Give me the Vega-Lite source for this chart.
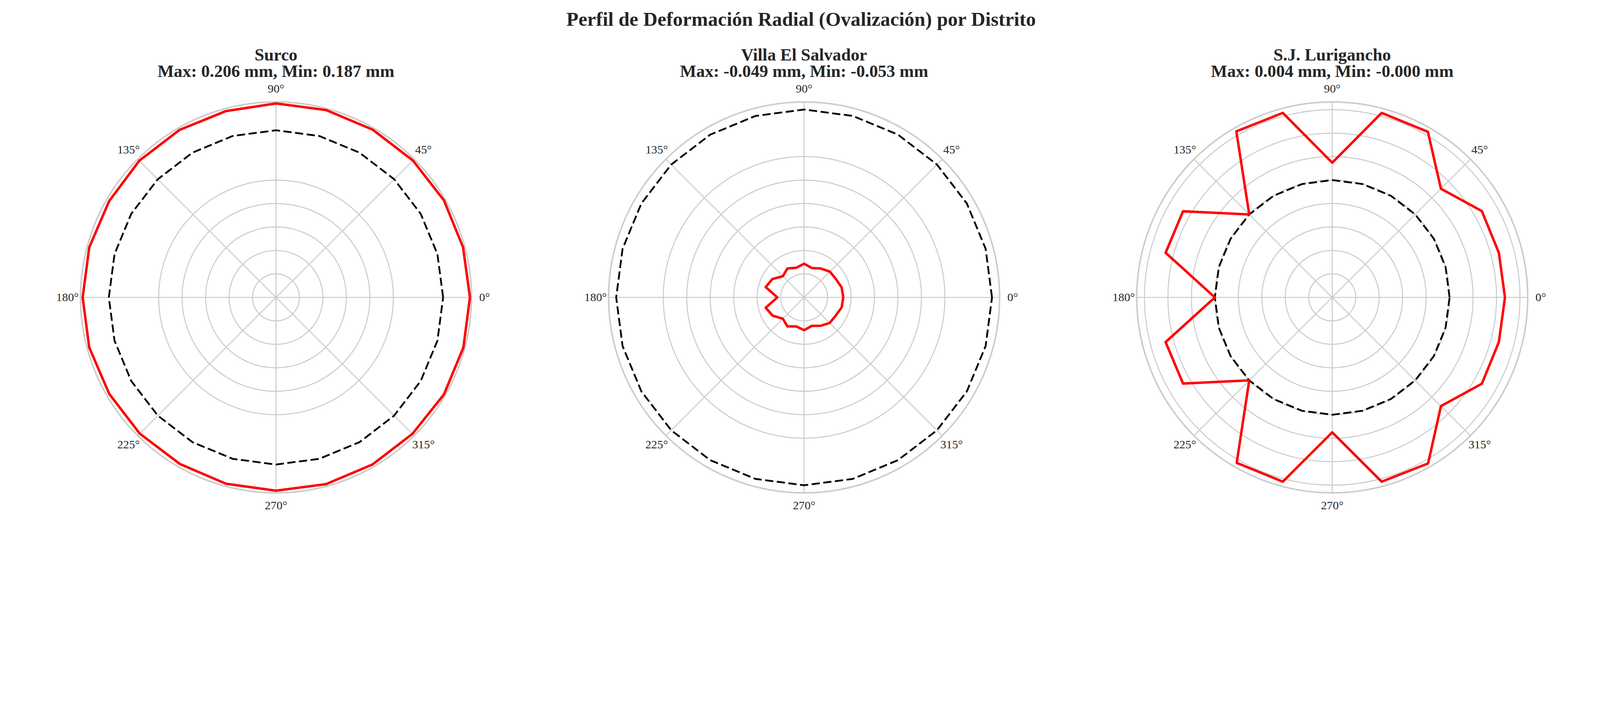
{
  "$schema": "https://vega.github.io/schema/vega-lite/v6.json",
  "background": "#ffffff",
  "padding": {"left": 143, "top": 26, "right": 0, "bottom": 0},
  "title": {
    "text": "Perfil de Deformación Radial (Ovalización) por Distrito",
    "anchor": "middle",
    "font": "Liberation Serif",
    "fontSize": 50.6,
    "fontWeight": "bold",
    "color": "#262626",
    "offset": 43
  },
  "datasets": {
    "anillos": [{"r": 1}, {"r": 2}, {"r": 3}, {"r": 4}, {"r": 5}, {"r": 6}, {"r": 7}, {"r": 8}],
    "rayos": [
      {"angulo": 0, "etiqueta": "0°"}, {"angulo": 45, "etiqueta": "45°"},
      {"angulo": 90, "etiqueta": "90°"}, {"angulo": 135, "etiqueta": "135°"},
      {"angulo": 180, "etiqueta": "180°"}, {"angulo": 225, "etiqueta": "225°"},
      {"angulo": 270, "etiqueta": "270°"}, {"angulo": 315, "etiqueta": "315°"}
    ],
    "surco": [
      {"angulo": 0, "medido": 5.78, "referencia": 4.98}, {"angulo": 15, "medido": 5.77, "referencia": 4.98},
      {"angulo": 30, "medido": 5.78, "referencia": 4.98}, {"angulo": 45, "medido": 5.77, "referencia": 4.98},
      {"angulo": 60, "medido": 5.77, "referencia": 4.98}, {"angulo": 75, "medido": 5.78, "referencia": 4.98},
      {"angulo": 90, "medido": 5.78, "referencia": 4.98}, {"angulo": 105, "medido": 5.75, "referencia": 4.98},
      {"angulo": 120, "medido": 5.76, "referencia": 4.98}, {"angulo": 135, "medido": 5.76, "referencia": 4.98},
      {"angulo": 150, "medido": 5.74, "referencia": 4.98}, {"angulo": 165, "medido": 5.76, "referencia": 4.98},
      {"angulo": 180, "medido": 5.76, "referencia": 4.98}, {"angulo": 195, "medido": 5.76, "referencia": 4.98},
      {"angulo": 210, "medido": 5.74, "referencia": 4.98}, {"angulo": 225, "medido": 5.74, "referencia": 4.98},
      {"angulo": 240, "medido": 5.73, "referencia": 4.98}, {"angulo": 255, "medido": 5.75, "referencia": 4.98},
      {"angulo": 270, "medido": 5.76, "referencia": 4.98}, {"angulo": 285, "medido": 5.76, "referencia": 4.98},
      {"angulo": 300, "medido": 5.75, "referencia": 4.98}, {"angulo": 315, "medido": 5.75, "referencia": 4.98},
      {"angulo": 330, "medido": 5.78, "referencia": 4.98}, {"angulo": 345, "medido": 5.78, "referencia": 4.98},
      {"angulo": 360, "medido": 5.78, "referencia": 4.98}
    ],
    "ves": [
      {"angulo": 0, "medido": 1.29, "referencia": 6.19}, {"angulo": 15, "medido": 1.28, "referencia": 6.19},
      {"angulo": 30, "medido": 1.21, "referencia": 6.19}, {"angulo": 45, "medido": 1.20, "referencia": 6.19},
      {"angulo": 60, "medido": 1.10, "referencia": 6.19}, {"angulo": 75, "medido": 1.00, "referencia": 6.19},
      {"angulo": 90, "medido": 1.11, "referencia": 6.19}, {"angulo": 105, "medido": 1.01, "referencia": 6.19},
      {"angulo": 120, "medido": 1.10, "referencia": 6.19}, {"angulo": 135, "medido": 0.99, "referencia": 6.19},
      {"angulo": 150, "medido": 1.21, "referencia": 6.19}, {"angulo": 165, "medido": 1.31, "referencia": 6.19},
      {"angulo": 180, "medido": 0.88, "referencia": 6.19}, {"angulo": 195, "medido": 1.31, "referencia": 6.19},
      {"angulo": 210, "medido": 1.20, "referencia": 6.19}, {"angulo": 225, "medido": 0.99, "referencia": 6.19},
      {"angulo": 240, "medido": 1.10, "referencia": 6.19}, {"angulo": 255, "medido": 0.99, "referencia": 6.19},
      {"angulo": 270, "medido": 1.08, "referencia": 6.19}, {"angulo": 285, "medido": 0.97, "referencia": 6.19},
      {"angulo": 300, "medido": 1.08, "referencia": 6.19}, {"angulo": 315, "medido": 1.19, "referencia": 6.19},
      {"angulo": 330, "medido": 1.20, "referencia": 6.19}, {"angulo": 345, "medido": 1.28, "referencia": 6.19},
      {"angulo": 360, "medido": 1.29, "referencia": 6.19}
    ],
    "sjl": [
      {"angulo": 0, "medido": 7.36, "referencia": 5.0}, {"angulo": 15, "medido": 7.35, "referencia": 5.0},
      {"angulo": 30, "medido": 7.36, "referencia": 5.0}, {"angulo": 45, "medido": 6.55, "referencia": 5.0},
      {"angulo": 60, "medido": 8.15, "referencia": 5.0}, {"angulo": 75, "medido": 8.14, "referencia": 5.0},
      {"angulo": 90, "medido": 5.74, "referencia": 5.0}, {"angulo": 105, "medido": 8.14, "referencia": 5.0},
      {"angulo": 120, "medido": 8.17, "referencia": 5.0}, {"angulo": 135, "medido": 5.0, "referencia": 5.0},
      {"angulo": 150, "medido": 7.34, "referencia": 5.0}, {"angulo": 165, "medido": 7.35, "referencia": 5.0},
      {"angulo": 180, "medido": 5.0, "referencia": 5.0}, {"angulo": 195, "medido": 7.35, "referencia": 5.0},
      {"angulo": 210, "medido": 7.34, "referencia": 5.0}, {"angulo": 225, "medido": 5.0, "referencia": 5.0},
      {"angulo": 240, "medido": 8.14, "referencia": 5.0}, {"angulo": 255, "medido": 8.13, "referencia": 5.0},
      {"angulo": 270, "medido": 5.75, "referencia": 5.0}, {"angulo": 285, "medido": 8.13, "referencia": 5.0},
      {"angulo": 300, "medido": 8.17, "referencia": 5.0}, {"angulo": 315, "medido": 6.55, "referencia": 5.0},
      {"angulo": 330, "medido": 7.36, "referencia": 5.0}, {"angulo": 345, "medido": 7.35, "referencia": 5.0},
      {"angulo": 360, "medido": 7.36, "referencia": 5.0}
    ]
  },
  "hconcat": [
    {
      "width": 1001,
      "height": 1001,
      "title": {"text": ["Surco", "Max: 0.206 mm, Min: 0.187 mm"]},
      "encoding": {
        "x": {"type": "quantitative", "scale": {"domain": [-5.825, 5.825], "nice": false, "zero": false}, "axis": null},
        "y": {"type": "quantitative", "scale": {"domain": [-5.825, 5.825], "nice": false, "zero": false}, "axis": null}
      },
      "layer": [
        {
          "data": {"name": "anillos"},
          "transform": [{"filter": "datum.r < 5.825"}],
          "mark": {"type": "point", "shape": "circle", "filled": false, "opacity": 1, "stroke": "#cccccc", "strokeWidth": 2.65},
          "encoding": {
            "x": {"datum": 0},
            "y": {"datum": 0},
            "size": {"field": "r", "type": "quantitative", "scale": {"type": "pow", "exponent": 2, "domain": [0, 5.825], "range": [0, 1002001], "zero": true, "nice": false}, "legend": null}
          }
        },
        {
          "data": {"name": "rayos"},
          "transform": [
            {"calculate": "5.825 * cos(datum.angulo * PI / 180)", "as": "xe"},
            {"calculate": "5.825 * sin(datum.angulo * PI / 180)", "as": "ye"}
          ],
          "mark": {"type": "rule", "stroke": "#cccccc", "strokeWidth": 2.65},
          "encoding": {"x": {"field": "xe"}, "y": {"field": "ye"}, "x2": {"datum": 0}, "y2": {"datum": 0}}
        },
        {
          "data": {"values": [{}]},
          "mark": {"type": "point", "shape": "circle", "filled": false, "opacity": 1, "size": 1002001, "stroke": "#cccccc", "strokeWidth": 3.9},
          "encoding": {"x": {"datum": 0}, "y": {"datum": 0}}
        },
        {
          "data": {"name": "surco"},
          "transform": [
            {"calculate": "datum.referencia * cos(datum.angulo * PI / 180)", "as": "px"},
            {"calculate": "datum.referencia * sin(datum.angulo * PI / 180)", "as": "py"}
          ],
          "mark": {"type": "line", "stroke": "#000000", "strokeWidth": 4.55, "strokeDash": [21, 9], "strokeJoin": "round"},
          "encoding": {"x": {"field": "px"}, "y": {"field": "py"}, "order": {"field": "angulo"}}
        },
        {
          "data": {"name": "surco"},
          "transform": [
            {"calculate": "datum.medido * cos(datum.angulo * PI / 180)", "as": "px"},
            {"calculate": "datum.medido * sin(datum.angulo * PI / 180)", "as": "py"}
          ],
          "mark": {"type": "line", "stroke": "#ff0000", "strokeWidth": 6.3, "strokeJoin": "round"},
          "encoding": {"x": {"field": "px"}, "y": {"field": "py"}, "order": {"field": "angulo"}}
        },
        {
          "data": {"name": "rayos"},
          "transform": [
            {"calculate": "6.2133 * cos(datum.angulo * PI / 180)", "as": "xt"},
            {"calculate": "6.2133 * sin(datum.angulo * PI / 180)", "as": "yt"}
          ],
          "mark": {"type": "text", "font": "Liberation Serif", "fontSize": 30.3, "fill": "#262626", "align": "center", "baseline": "middle"},
          "encoding": {"x": {"field": "xt"}, "y": {"field": "yt"}, "text": {"field": "etiqueta"}}
        }
      ]
    },
    {
      "width": 1001,
      "height": 1001,
      "title": {"text": ["Villa El Salvador", "Max: -0.049 mm, Min: -0.053 mm"]},
      "encoding": {
        "x": {"type": "quantitative", "scale": {"domain": [-6.44, 6.44], "nice": false, "zero": false}, "axis": null},
        "y": {"type": "quantitative", "scale": {"domain": [-6.44, 6.44], "nice": false, "zero": false}, "axis": null}
      },
      "layer": [
        {
          "data": {"name": "anillos"},
          "transform": [{"filter": "datum.r < 6.44"}],
          "mark": {"type": "point", "shape": "circle", "filled": false, "opacity": 1, "stroke": "#cccccc", "strokeWidth": 2.65},
          "encoding": {
            "x": {"datum": 0},
            "y": {"datum": 0},
            "size": {"field": "r", "type": "quantitative", "scale": {"type": "pow", "exponent": 2, "domain": [0, 6.44], "range": [0, 1002001], "zero": true, "nice": false}, "legend": null}
          }
        },
        {
          "data": {"name": "rayos"},
          "transform": [
            {"calculate": "6.44 * cos(datum.angulo * PI / 180)", "as": "xe"},
            {"calculate": "6.44 * sin(datum.angulo * PI / 180)", "as": "ye"}
          ],
          "mark": {"type": "rule", "stroke": "#cccccc", "strokeWidth": 2.65},
          "encoding": {"x": {"field": "xe"}, "y": {"field": "ye"}, "x2": {"datum": 0}, "y2": {"datum": 0}}
        },
        {
          "data": {"values": [{}]},
          "mark": {"type": "point", "shape": "circle", "filled": false, "opacity": 1, "size": 1002001, "stroke": "#cccccc", "strokeWidth": 3.9},
          "encoding": {"x": {"datum": 0}, "y": {"datum": 0}}
        },
        {
          "data": {"name": "ves"},
          "transform": [
            {"calculate": "datum.referencia * cos(datum.angulo * PI / 180)", "as": "px"},
            {"calculate": "datum.referencia * sin(datum.angulo * PI / 180)", "as": "py"}
          ],
          "mark": {"type": "line", "stroke": "#000000", "strokeWidth": 4.55, "strokeDash": [21, 9], "strokeJoin": "round"},
          "encoding": {"x": {"field": "px"}, "y": {"field": "py"}, "order": {"field": "angulo"}}
        },
        {
          "data": {"name": "ves"},
          "transform": [
            {"calculate": "datum.medido * cos(datum.angulo * PI / 180)", "as": "px"},
            {"calculate": "datum.medido * sin(datum.angulo * PI / 180)", "as": "py"}
          ],
          "mark": {"type": "line", "stroke": "#ff0000", "strokeWidth": 6.3, "strokeJoin": "round"},
          "encoding": {"x": {"field": "px"}, "y": {"field": "py"}, "order": {"field": "angulo"}}
        },
        {
          "data": {"name": "rayos"},
          "transform": [
            {"calculate": "6.8693 * cos(datum.angulo * PI / 180)", "as": "xt"},
            {"calculate": "6.8693 * sin(datum.angulo * PI / 180)", "as": "yt"}
          ],
          "mark": {"type": "text", "font": "Liberation Serif", "fontSize": 30.3, "fill": "#262626", "align": "center", "baseline": "middle"},
          "encoding": {"x": {"field": "xt"}, "y": {"field": "yt"}, "text": {"field": "etiqueta"}}
        }
      ]
    },
    {
      "width": 1001,
      "height": 1001,
      "title": {"text": ["S.J. Lurigancho", "Max: 0.004 mm, Min: -0.000 mm"]},
      "encoding": {
        "x": {"type": "quantitative", "scale": {"domain": [-8.33, 8.33], "nice": false, "zero": false}, "axis": null},
        "y": {"type": "quantitative", "scale": {"domain": [-8.33, 8.33], "nice": false, "zero": false}, "axis": null}
      },
      "layer": [
        {
          "data": {"name": "anillos"},
          "transform": [{"filter": "datum.r < 8.33"}],
          "mark": {"type": "point", "shape": "circle", "filled": false, "opacity": 1, "stroke": "#cccccc", "strokeWidth": 2.65},
          "encoding": {
            "x": {"datum": 0},
            "y": {"datum": 0},
            "size": {"field": "r", "type": "quantitative", "scale": {"type": "pow", "exponent": 2, "domain": [0, 8.33], "range": [0, 1002001], "zero": true, "nice": false}, "legend": null}
          }
        },
        {
          "data": {"name": "rayos"},
          "transform": [
            {"calculate": "8.33 * cos(datum.angulo * PI / 180)", "as": "xe"},
            {"calculate": "8.33 * sin(datum.angulo * PI / 180)", "as": "ye"}
          ],
          "mark": {"type": "rule", "stroke": "#cccccc", "strokeWidth": 2.65},
          "encoding": {"x": {"field": "xe"}, "y": {"field": "ye"}, "x2": {"datum": 0}, "y2": {"datum": 0}}
        },
        {
          "data": {"values": [{}]},
          "mark": {"type": "point", "shape": "circle", "filled": false, "opacity": 1, "size": 1002001, "stroke": "#cccccc", "strokeWidth": 3.9},
          "encoding": {"x": {"datum": 0}, "y": {"datum": 0}}
        },
        {
          "data": {"name": "sjl"},
          "transform": [
            {"calculate": "datum.referencia * cos(datum.angulo * PI / 180)", "as": "px"},
            {"calculate": "datum.referencia * sin(datum.angulo * PI / 180)", "as": "py"}
          ],
          "mark": {"type": "line", "stroke": "#000000", "strokeWidth": 4.55, "strokeDash": [21, 9], "strokeJoin": "round"},
          "encoding": {"x": {"field": "px"}, "y": {"field": "py"}, "order": {"field": "angulo"}}
        },
        {
          "data": {"name": "sjl"},
          "transform": [
            {"calculate": "datum.medido * cos(datum.angulo * PI / 180)", "as": "px"},
            {"calculate": "datum.medido * sin(datum.angulo * PI / 180)", "as": "py"}
          ],
          "mark": {"type": "line", "stroke": "#ff0000", "strokeWidth": 6.3, "strokeJoin": "round"},
          "encoding": {"x": {"field": "px"}, "y": {"field": "py"}, "order": {"field": "angulo"}}
        },
        {
          "data": {"name": "rayos"},
          "transform": [
            {"calculate": "8.8853 * cos(datum.angulo * PI / 180)", "as": "xt"},
            {"calculate": "8.8853 * sin(datum.angulo * PI / 180)", "as": "yt"}
          ],
          "mark": {"type": "text", "font": "Liberation Serif", "fontSize": 30.3, "fill": "#262626", "align": "center", "baseline": "middle"},
          "encoding": {"x": {"field": "xt"}, "y": {"field": "yt"}, "text": {"field": "etiqueta"}}
        }
      ]
    }
  ],
  "spacing": 351,
  "bounds": "flush",
  "config": {
    "view": {"stroke": null},
    "title": {"font": "Liberation Serif", "fontSize": 44.2, "fontWeight": "bold", "color": "#262626", "lineHeight": 42.5, "offset": 6}
  }
}
